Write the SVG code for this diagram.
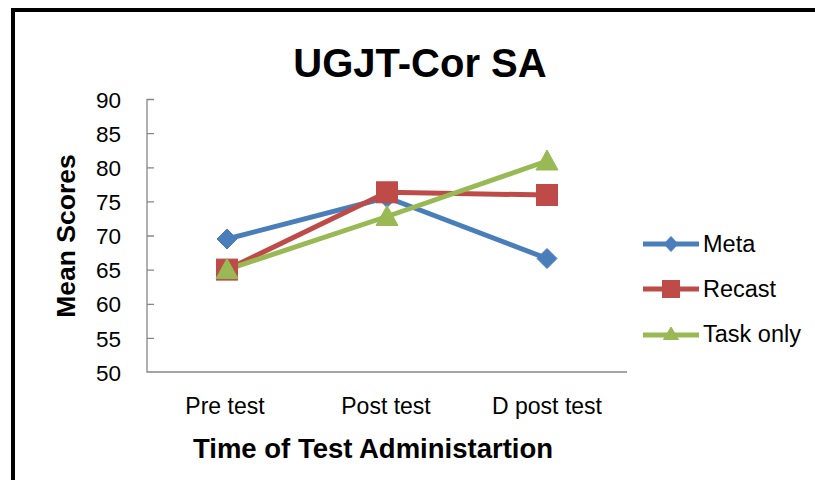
<svg xmlns="http://www.w3.org/2000/svg" width="815" height="480" viewBox="0 0 815 480">
  <style>
    .frame { fill: #ffffff; stroke: #000000; stroke-width: 4; }
    .axis { stroke: #868686; stroke-width: 1.3; fill: none; }
    .tick-label { font-family: "Liberation Sans", Arial, sans-serif; font-size: 22.5px; fill: #000000; text-anchor: end; }
    .cat-label { font-family: "Liberation Sans", Arial, sans-serif; font-size: 23px; fill: #000000; text-anchor: middle; }
    .axis-title { font-family: "Liberation Sans", Arial, sans-serif; font-size: 26.5px; font-weight: bold; fill: #000000; text-anchor: middle; }
    .chart-title { font-family: "Liberation Sans", Arial, sans-serif; font-size: 40px; font-weight: bold; fill: #000000; text-anchor: middle; }
    .legend-label { font-family: "Liberation Sans", Arial, sans-serif; font-size: 23.5px; fill: #000000; }
    .meta { stroke: #4A7EBB; fill: #4A7EBB; }
    .recast { stroke: #BE4B48; fill: #BE4B48; }
    .task { stroke: #98B954; fill: #98B954; }
    .series { stroke-width: 5; fill: none; stroke-linejoin: round; stroke-linecap: round; }
  </style>
  <defs>
    <path id="diamond" d="M0,-10 L10,0 L0,10 L-10,0 Z"/>
    <rect id="square" x="-10.5" y="-10.5" width="21" height="21"/>
    <path id="triangle" d="M0,-11 L11,9 L-11,9 Z"/>
    <path id="diamond-s" d="M0,-7.5 L7,0 L0,7.5 L-7,0 Z"/>
    <rect id="square-s" x="-8.5" y="-8.5" width="17" height="17"/>
    <path id="triangle-s" d="M0,-7 L7.5,5.5 L-7.5,5.5 Z"/>
  </defs>

  <!-- outer frame -->
  <rect class="frame" x="13" y="10" width="900" height="600"/>

  <!-- title -->
  <text id="title" class="chart-title" x="420" y="77">UGJT-Cor SA</text>

  <!-- axes -->
  <g id="axes">
    <path class="axis" d="M147,99 V372 H627"/>
    <path class="axis" d="M147,99.5 H154 M147,133.6 H154 M147,167.8 H154 M147,201.9 H154 M147,236 H154 M147,270.1 H154 M147,304.3 H154 M147,338.4 H154"/>
    <g id="y-labels">
      <text class="tick-label" x="121" y="107.5">90</text>
      <text class="tick-label" x="121" y="141.5">85</text>
      <text class="tick-label" x="121" y="175.5">80</text>
      <text class="tick-label" x="121" y="209.5">75</text>
      <text class="tick-label" x="121" y="244">70</text>
      <text class="tick-label" x="121" y="278">65</text>
      <text class="tick-label" x="121" y="312">60</text>
      <text class="tick-label" x="121" y="346.5">55</text>
      <text class="tick-label" x="121" y="380.5">50</text>
    </g>
    <g id="x-labels">
      <text class="cat-label" x="225" y="414">Pre test</text>
      <text class="cat-label" x="386" y="414">Post test</text>
      <text class="cat-label" x="547" y="414">D post test</text>
    </g>
    <text id="y-title" class="axis-title" transform="translate(75,236) rotate(-90)">Mean Scores</text>
    <text id="x-title" class="axis-title" x="373" y="458" style="font-size:27.5px">Time of Test Administartion</text>
  </g>

  <!-- data series -->
  <g id="connectors">
    <polyline id="meta-line" class="series meta" style="fill:none" points="227,239 387,197.5 547,258.5"/>
    <polyline id="recast-line" class="series recast" style="fill:none" points="227,269.6 387,192.3 547,195"/>
    <polyline id="task-line" class="series task" style="fill:none" points="227,269.6 387,216.5 547,161"/>
  </g>

  <g id="meta-markers" class="meta">
    <use href="#diamond" x="227" y="239"/>
    <use href="#diamond" x="387" y="197.5"/>
    <use href="#diamond" x="547" y="258.5"/>
  </g>
  <g id="recast-markers" class="recast">
    <use href="#square" x="227" y="269.6"/>
    <use href="#square" x="387" y="192.3"/>
    <use href="#square" x="547" y="195"/>
  </g>
  <g id="task-markers" class="task">
    <use href="#triangle" x="227" y="269.6"/>
    <use href="#triangle" x="387" y="216.5"/>
    <use href="#triangle" x="547" y="161"/>
  </g>

  <!-- legend -->
  <g id="legend">
    <g id="legend-meta">
      <line class="meta" x1="643" y1="244" x2="699" y2="244" stroke-width="5"/>
      <use href="#diamond-s" class="meta" x="671" y="244"/>
      <text class="legend-label" x="703" y="252">Meta</text>
    </g>
    <g id="legend-recast">
      <line class="recast" x1="643" y1="289" x2="699" y2="289" stroke-width="5"/>
      <use href="#square-s" class="recast" x="671" y="289"/>
      <text class="legend-label" x="703" y="297">Recast</text>
    </g>
    <g id="legend-task">
      <line class="task" x1="643" y1="335" x2="699" y2="335" stroke-width="5"/>
      <use href="#triangle-s" class="task" x="671" y="334"/>
      <text class="legend-label" x="703" y="342">Task only</text>
    </g>
  </g>
</svg>
